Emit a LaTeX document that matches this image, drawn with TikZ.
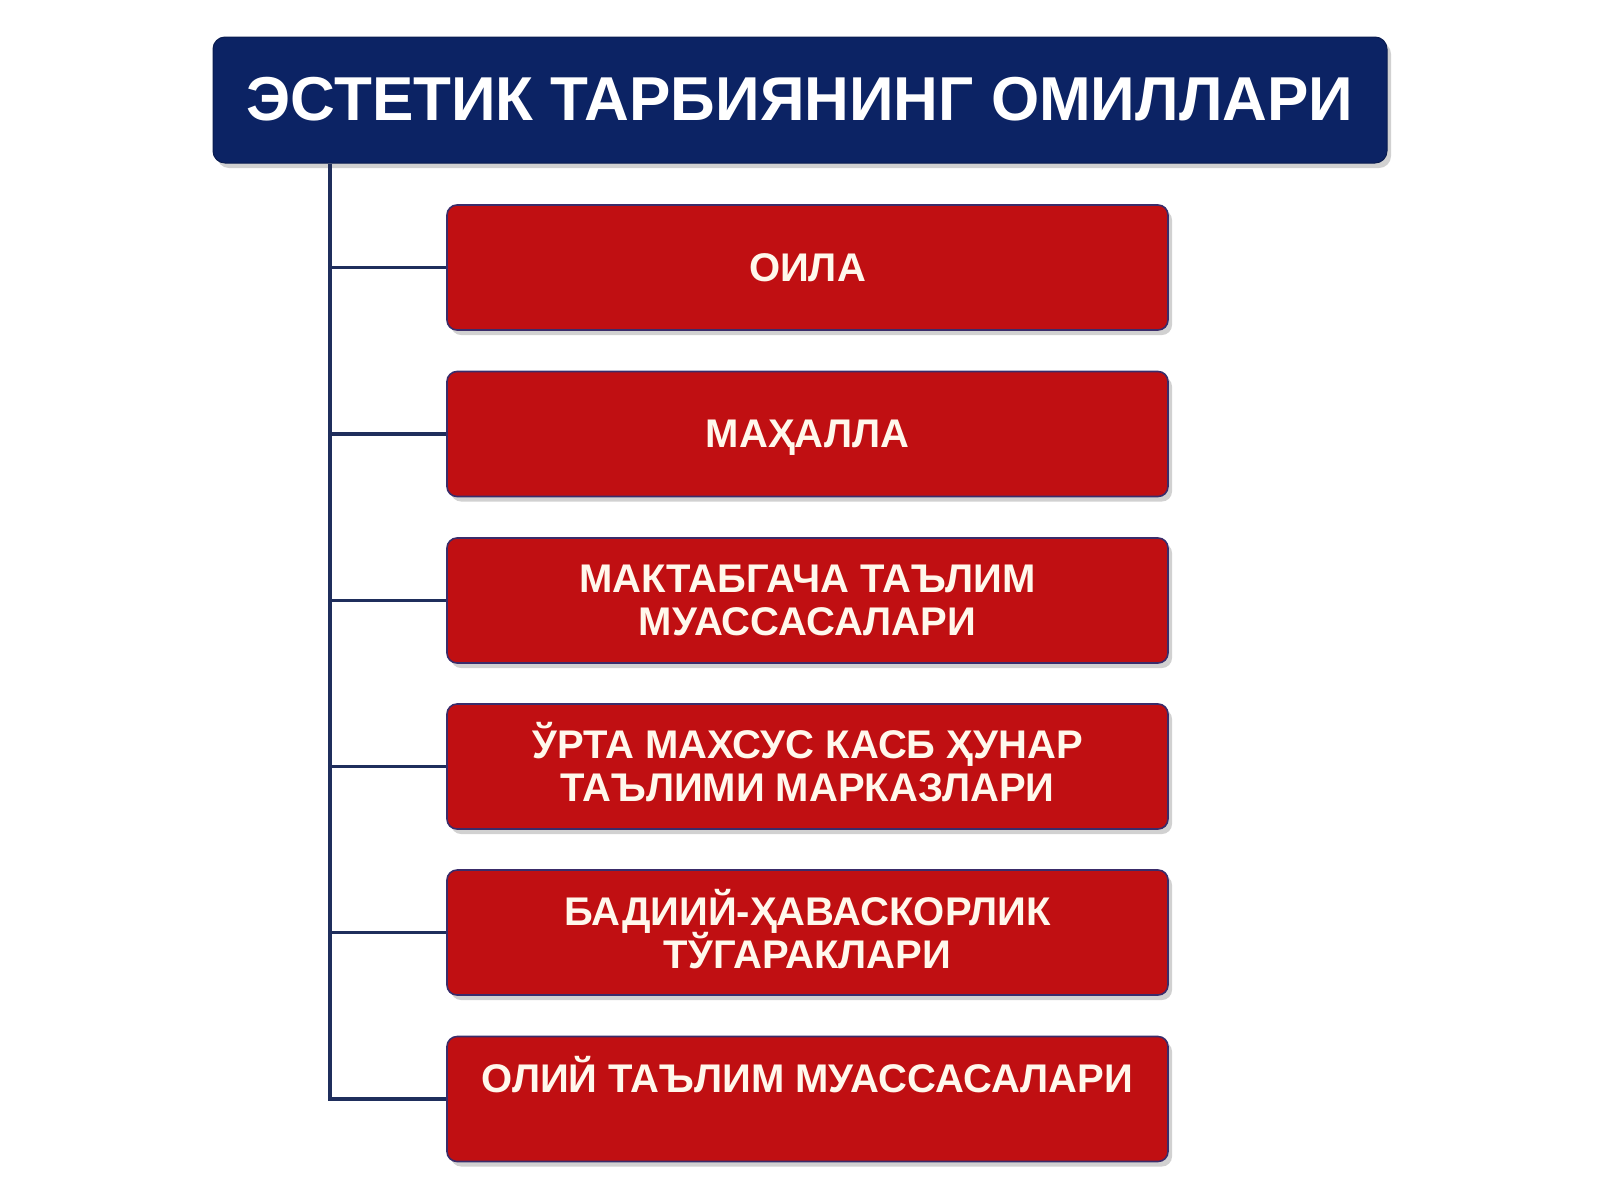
\documentclass[tikz,border=0pt]{standalone}
\usepackage{fontspec}
\setmainfont{Liberation Sans}
\usetikzlibrary{shadows,calc}
\definecolor{navy}{HTML}{0C2364}
\definecolor{boxred}{HTML}{C00F12}
\definecolor{edgec}{HTML}{3A2C6A}
\definecolor{linec}{HTML}{1F2E5C}
\definecolor{txt}{HTML}{FFF8EC}
\newcommand{\tightlines}{\lineskiplimit=-20pt\relax}
\begin{document}
\begin{tikzpicture}[x=0.5pt,y=-0.5pt,
  titlebox/.style={fill=navy, draw=navy!80!black, line width=0.5pt, rounded corners=6pt,
    minimum width=587pt, minimum height=63pt, inner sep=0pt,
    drop shadow={shadow xshift=2pt, shadow yshift=-2.5pt, opacity=0.18, fill=black}},
  redbox/.style={fill=boxred, draw=edgec, line width=0.8pt, rounded corners=5pt,
    minimum width=360.5pt, minimum height=62.5pt, inner sep=0pt,
    drop shadow={shadow xshift=2pt, shadow yshift=-2.5pt, opacity=0.18, fill=black}},
  titletext/.style={text=white, font=\bfseries\fontsize{31}{34}\selectfont, inner sep=0pt},
  boxtext/.style={text=txt, align=center, inner sep=0pt,
    font=\bfseries\fontsize{20}{21.5}\selectfont, execute at begin node=\tightlines},
  conn/.style={draw=linec, line width=1.6pt}
]
\useasboundingbox[fill=white] (0,0) rectangle (1600,1200);

\node[titlebox] (title) at (800,100) {};
\node[titletext] (tt) at (800,99) {ЭСТЕТИК ТАРБИЯНИНГ ОМИЛЛАРИ};

\node[redbox] (b1) at (807.5,267.5) {};
\node[redbox] (b2) at (807.5,434) {};
\node[redbox] (b3) at (807.5,600.5) {};
\node[redbox] (b4) at (807.5,766.5) {};
\node[redbox] (b5) at (807.5,932.5) {};
\node[redbox] (b6) at (807.5,1099) {};

\node[boxtext] (t1) at (807.5,267.5) {ОИЛА};
\node[boxtext] (t2) at (807.5,437.5) {МАҲАЛЛА};
\node[boxtext] (t3) at (807.5,600.5) {МАКТАБГАЧА ТАЪЛИМ\\МУАССАСАЛАРИ};
\node[boxtext] (t4) at (807.5,762) {ЎРТА МАХСУС КАСБ ҲУНАР\\ТАЪЛИМИ МАРКАЗЛАРИ};
\node[boxtext] (t5) at (807.5,929) {БАДИИЙ-ҲАВАСКОРЛИК\\ТЎГАРАКЛАРИ};
\node[boxtext] (t6) at (807.5,1075) {ОЛИЙ ТАЪЛИМ МУАССАСАЛАРИ};

\coordinate (j6) at (330,1099);
\draw[conn] (title.south -| j6) -- (j6) -- (b6.west);
\foreach \i in {1,...,5}{
  \draw[conn] (b\i.west -| j6) -- (b\i.west);
}
\end{tikzpicture}
\end{document}
